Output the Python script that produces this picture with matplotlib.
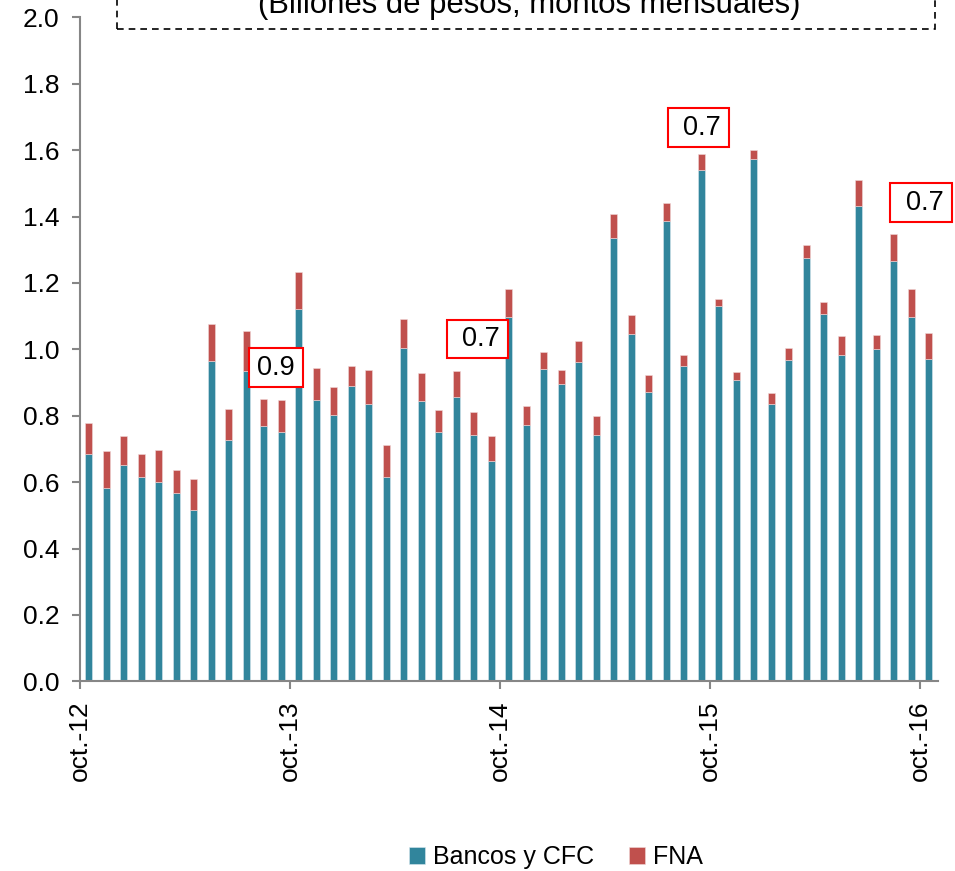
import matplotlib
matplotlib.use('Agg')
import matplotlib.pyplot as plt
import matplotlib.patches as patches
import numpy as np

plt.rcParams['font.family'] = ['Liberation Sans', 'DejaVu Sans']

# monthly disbursements, oct-2012 .. oct-2016 (billones de pesos)
bancos = [0.684, 0.583, 0.651, 0.614, 0.601, 0.566, 0.516, 0.965, 0.728, 0.934, 0.770, 0.751,
          1.120, 0.846, 0.802, 0.889, 0.834, 0.614, 1.003, 0.844, 0.750, 0.856, 0.741, 0.663,
          1.098, 0.772, 0.941, 0.895, 0.961, 0.741, 1.334, 1.045, 0.870, 1.388, 0.949, 1.541,
          1.129, 0.908, 1.572, 0.834, 0.969, 1.276, 1.105, 0.984, 1.431, 1.002, 1.265, 1.097, 0.970]
fna = [0.093, 0.110, 0.087, 0.070, 0.095, 0.070, 0.093, 0.111, 0.092, 0.121, 0.079, 0.095,
       0.114, 0.097, 0.085, 0.060, 0.104, 0.098, 0.087, 0.084, 0.066, 0.079, 0.069, 0.076,
       0.083, 0.056, 0.050, 0.043, 0.063, 0.057, 0.074, 0.057, 0.053, 0.052, 0.034, 0.046,
       0.022, 0.023, 0.029, 0.033, 0.036, 0.037, 0.038, 0.055, 0.078, 0.042, 0.082, 0.085, 0.079]
xlabels = ['oct.-12', 'oct.-13', 'oct.-14', 'oct.-15', 'oct.-16']
box_texts = ['0.9', '0.7', '0.7', '0.7']
yticks = [0.0, 0.2, 0.4, 0.6, 0.8, 1.0, 1.2, 1.4, 1.6, 1.8, 2.0]

teal = '#31859C'
red = '#C0504D'
grey = '#868686'

fig = plt.figure(figsize=(9.55, 8.71), dpi=100)
ax = fig.add_axes([0.0838, 0.2178, 0.8979, 0.7623])

x = np.arange(len(bancos))
ax.bar(x, bancos, width=0.4, color=teal, edgecolor='#d8e8ee', linewidth=0.4, label='Bancos y CFC', zorder=2)
ax.bar(x, fna, width=0.4, bottom=bancos, color=red, edgecolor='#f0d8d8', linewidth=0.4, label='FNA', zorder=2)

ax.set_xlim(-0.5, len(bancos) - 0.5)
ax.set_ylim(0, 2.0)
ax.set_yticks(yticks)
ax.set_yticklabels(['%.1f' % v for v in yticks])
ax.set_xticks(np.arange(len(xlabels)) * 12 - 0.5)
ax.set_xticklabels(xlabels, rotation=90, va='top', ha='center')

for s in ['top', 'right']:
    ax.spines[s].set_visible(False)
for s in ['left', 'bottom']:
    ax.spines[s].set_color(grey)
    ax.spines[s].set_linewidth(1.5)
ax.tick_params(axis='y', direction='out', length=6, width=1.5, color=grey, labelsize=19, pad=9)
ax.tick_params(axis='x', direction='out', length=6, width=1.5, color=grey, labelsize=19, pad=8)

# red label boxes (x0, x1, y0, y1 in data units)
box_pos = [(9.16, 12.24, 0.886, 1.004),
           (20.47, 23.96, 0.974, 1.088),
           (33.10, 36.59, 1.609, 1.727),
           (45.79, 49.33, 1.383, 1.501)]
for t, (x0, x1, y0, y1) in zip(box_texts, box_pos):
    ax.add_patch(patches.Rectangle((x0, y0), x1 - x0, y1 - y0, facecolor='white',
                                   edgecolor='#ff0000', linewidth=1.5, zorder=4, clip_on=False))
    ax.text(x1 - 0.45, (y0 + y1) / 2, t, ha='right', va='center', fontsize=19.5, zorder=5, clip_on=False)

# dashed title frame, cut by the top edge
fig.patches.append(patches.Rectangle((0.1225, 0.9667), 0.8565, 0.1, transform=fig.transFigure,
                                     fill=False, edgecolor='black', linewidth=1.2, linestyle=(0, (4, 3))))
fig.text(0.554, 1 - 13 / 871, '(Billones de pesos, montos mensuales)', ha='center', va='baseline', fontsize=22.4)

fig.legend(loc='center', bbox_to_anchor=(0.582, 1 - 857 / 871), ncol=2, frameon=False, fontsize=18,
           handlelength=0.65, handleheight=0.65, handletextpad=0.3, columnspacing=1.4)

plt.savefig('out.png', dpi=100)
